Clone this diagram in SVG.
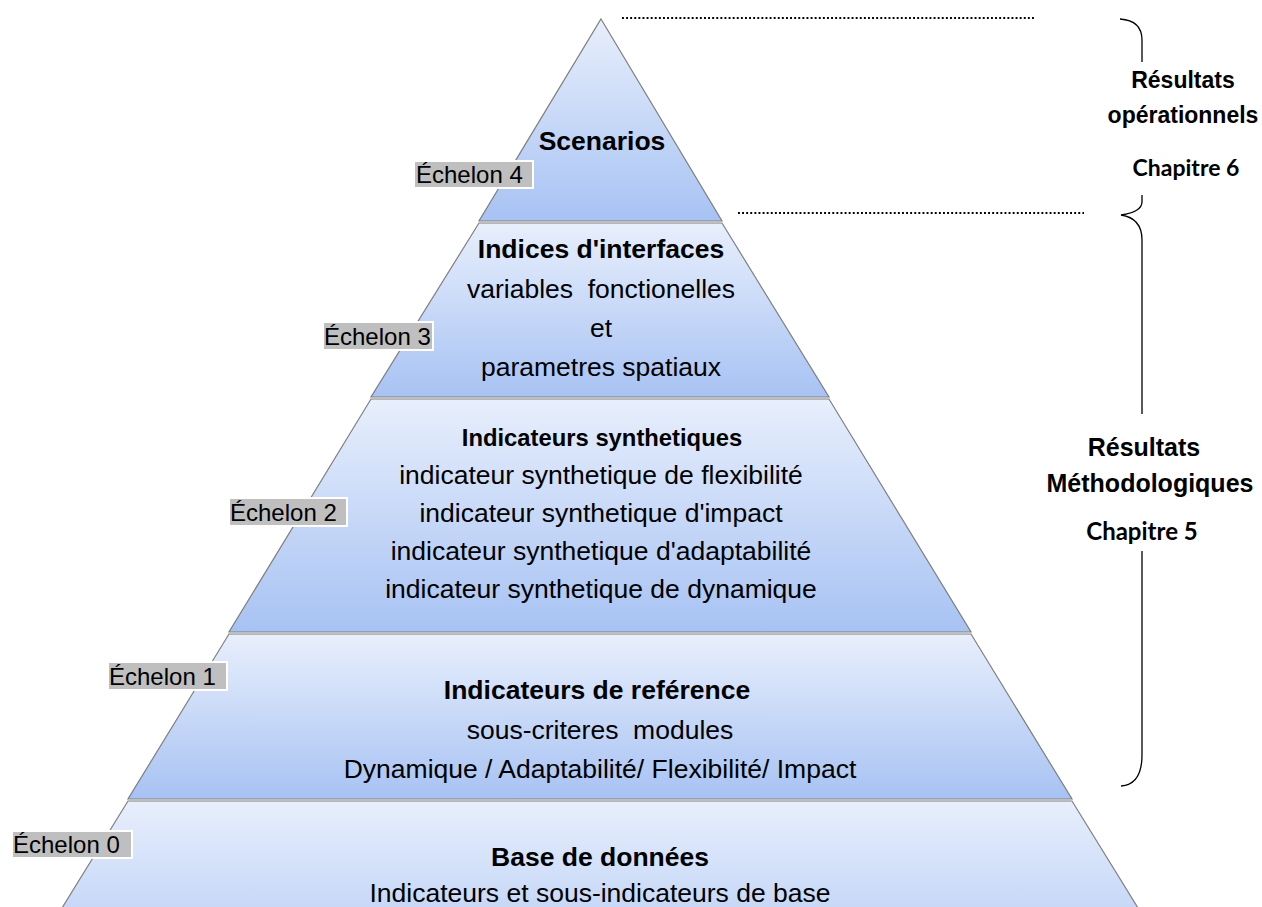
<svg xmlns="http://www.w3.org/2000/svg" width="1262" height="907" viewBox="0 0 1262 907">
<style>
.layer{stroke:#7f7f7f;stroke-width:1.2}
.t{font-family:"Liberation Sans",Arial,sans-serif;font-size:26.5px;fill:#000;text-anchor:middle;white-space:pre}
.b{font-weight:bold}
.lbl rect{fill:#bfbfbf;stroke:#ffffff;stroke-width:2}
.lbl text{font-family:"Liberation Sans",Arial,sans-serif;font-size:24px;fill:#000}
.dot{stroke:#000;stroke-width:1.9;stroke-dasharray:1.9 2.2;fill:none}
.brace{stroke:#000;stroke-width:1.3;fill:none}
.r{font-family:"Liberation Sans",Arial,sans-serif;font-weight:bold;fill:#000;text-anchor:middle}
.c{font-family:Lato,"Liberation Sans",sans-serif;font-weight:bold;fill:#000;text-anchor:middle}
</style>
<defs>
<linearGradient id="g" x1="0" y1="0" x2="0" y2="1">
<stop offset="0" stop-color="#e8effc"/>
<stop offset="1" stop-color="#a7c2f3"/>
</linearGradient>
<linearGradient id="g0" gradientUnits="userSpaceOnUse" x1="0" y1="800" x2="0" y2="1010">
<stop offset="0" stop-color="#e8effc"/>
<stop offset="1" stop-color="#a7c2f3"/>
</linearGradient>
</defs>
<rect width="1262" height="907" fill="#ffffff"/>

<g id="level4">
<polygon class="layer" fill="url(#g)" points="601,19 722,221 479,221"/>
<text class="t b" x="602" y="150">Scenarios</text>
</g>
<g id="level3">
<polygon class="layer" fill="url(#g)" points="479,223 722,223 829,397 371,397"/>
<text class="t b" x="601" y="258">Indices d'interfaces</text>
<text class="t" x="601" y="298">variables  fonctionelles</text>
<text class="t" x="601" y="337">et</text>
<text class="t" x="601" y="376">parametres spatiaux</text>
</g>
<g id="level2">
<polygon class="layer" fill="url(#g)" points="371,399 829,399 971,632 229,632"/>
<text class="t b" x="602" y="446" style="font-size:23.8px">Indicateurs synthetiques</text>
<text class="t" x="601" y="484">indicateur synthetique de flexibilité</text>
<text class="t" x="601" y="522">indicateur synthetique d'impact</text>
<text class="t" x="601" y="560">indicateur synthetique d'adaptabilité</text>
<text class="t" x="601" y="598">indicateur synthetique de dynamique</text>
</g>
<g id="level1">
<polygon class="layer" fill="url(#g)" points="229,634 971,634 1072,799 128,799"/>
<text class="t b" x="597" y="699">Indicateurs de reférence</text>
<text class="t" x="600" y="739">sous-criteres  modules</text>
<text class="t" x="600" y="778">Dynamique / Adaptabilité/ Flexibilité/ Impact</text>
</g>
<g id="level0">
<polygon class="layer" fill="url(#g0)" points="128,801 1072,801 1201,1010 -1,1010"/>
<text class="t b" x="600" y="866">Base de données</text>
<text class="t" x="600" y="902">Indicateurs et sous-indicateurs de base</text>
</g>

<g id="echelon4" class="lbl"><rect x="414" y="161" width="119" height="27"/><text x="416" y="183">Échelon 4</text></g>
<g id="echelon3" class="lbl"><rect x="323" y="322" width="110" height="28"/><text x="324" y="345">Échelon 3</text></g>
<g id="echelon2" class="lbl"><rect x="229" y="498" width="118" height="28"/><text x="230" y="521">Échelon 2</text></g>
<g id="echelon1" class="lbl"><rect x="108" y="662" width="119" height="28"/><text x="109" y="685">Échelon 1</text></g>
<g id="echelon0" class="lbl"><rect x="12" y="831" width="120" height="27"/><text x="13" y="853">Échelon 0</text></g>

<g id="connectors">
<line class="dot" x1="622" y1="18" x2="1034" y2="18"/>
<line class="dot" x1="738" y1="213" x2="1084" y2="213"/>
<path class="brace" d="M1120,19 C1135,20 1142,27 1142,40 L1142,62"/>
<path class="brace" d="M1142,195 L1142,202 C1142,209 1134,213 1121,215 C1134,217 1142,224 1142,240 L1142,414"/>
<path class="brace" d="M1142,551 L1142,755 C1142,775 1135,785 1121,786"/>
</g>

<g id="result6">
<text class="r" x="1183" y="88" font-size="23">Résultats</text>
<text class="r" x="1183" y="123" font-size="23">opérationnels</text>
<text class="c" x="1186" y="176" font-size="23">Chapitre 6</text>
</g>
<g id="result5">
<text class="r" x="1144" y="456" font-size="25">Résultats</text>
<text class="r" x="1150" y="492" font-size="25">Méthodologiques</text>
<text class="c" x="1142" y="540" font-size="24">Chapitre 5</text>
</g>
</svg>
